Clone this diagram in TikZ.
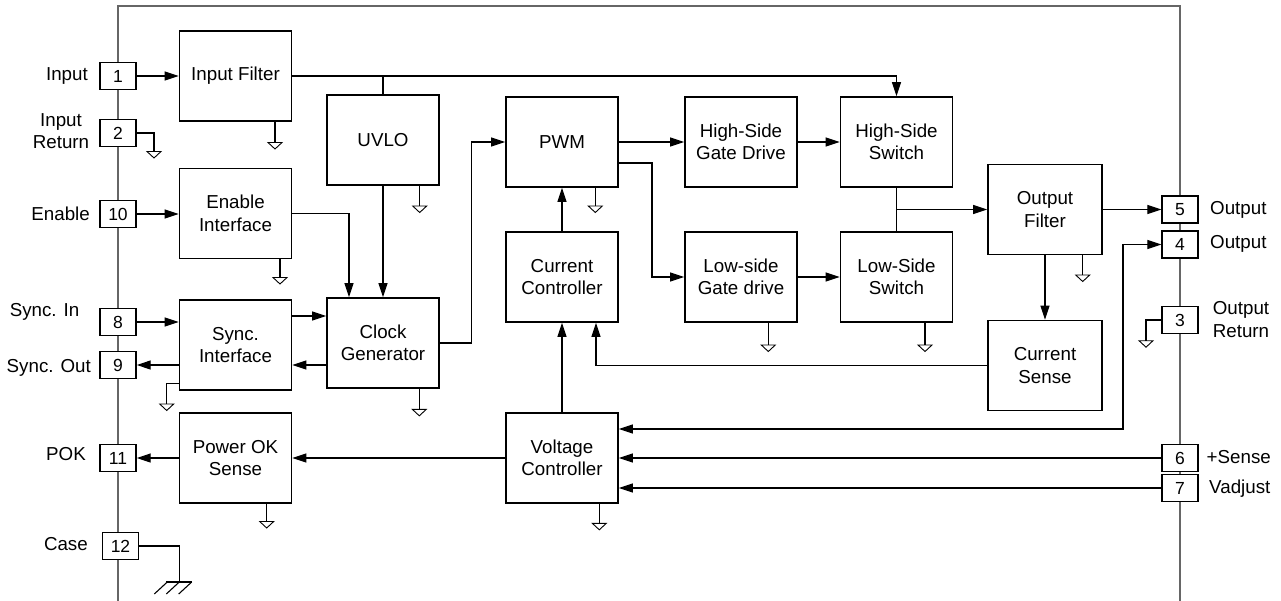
\documentclass[tikz,border=0pt]{standalone}
\usepackage{fontspec}
\setmainfont{Liberation Sans}
\usetikzlibrary{arrows.meta}
\newcommand{\gndsym}[1]{\draw[gndline] (#1) ++(-7,0) -- ++(14,0) -- ++(-7,6.5) -- cycle;}
\begin{document}
\begin{tikzpicture}[x=1pt,y=-1pt,
  every node/.style={font=\fontsize{18.75}{22.5}\selectfont, inner sep=0pt},
  block/.style={draw, line width=1.6pt, minimum width=112pt, minimum height=90pt, align=center},
  pin/.style={draw, fill=white, line width=1.4pt, minimum width=36pt, minimum height=27pt, font=\fontsize{17.5}{20}\selectfont},
  lbl/.style={align=center},
  wire/.style={line width=1.1pt},
  arr/.style={wire, -{Triangle[length=14pt,width=9pt]}},
  darr/.style={wire, {Triangle[length=14pt,width=9pt]}-{Triangle[length=14pt,width=9pt]}},
  frame/.style={line width=1.2pt, draw=black!60},
  gndline/.style={line width=0.9pt}
]
\useasboundingbox (0,0) rectangle (1281,601);
% package frame
\draw[frame] (118,601) -- (118,6) -- (1180,6) -- (1180,601);

% blocks
\node[block] (infilt) at (235.5,76) {Input Filter};
\node[block] (enable) at (235.5,213.5) {Enable\\Interface};
\node[block] (sync) at (235.5,345) {Sync.\\Interface};
\node[block] (pok) at (235.5,458) {Power OK\\Sense};
\node[block] (uvlo) at (383,140) {UVLO};
\node[block] (clock) at (383,343) {Clock\\Generator};
\node[block] (pwm) at (562,142) {PWM};
\node[block] (curctl) at (562,277) {Current\\Controller};
\node[block] (volt) at (562,458) {Voltage\\Controller};
\node[block] (hsgd) at (741,142) {High-Side\\Gate Drive};
\node[block] (hss) at (896.5,142) {High-Side\\Switch};
\node[block] (lsgd) at (741,277) {Low-side\\Gate drive};
\node[block] (lss) at (896.5,277) {Low-Side\\Switch};
\node[block, minimum width=114pt] (outf) at (1045,209.5) {Output\\Filter};
\node[block, minimum width=114pt] (cursense) at (1045,365.5) {Current\\Sense};

% pins
\node[pin] (p1) at (118,76) {1};
\node[pin] (p2) at (118,133) {2};
\node[pin] (p10) at (118,214) {10};
\node[pin] (p8) at (118,322) {8};
\node[pin] (p9) at (118,365) {9};
\node[pin] (p11) at (118,458) {11};
\node[pin] (p12) at (120.5,546) {12};
\node[pin] (p5) at (1180,209.5) {5};
\node[pin] (p4) at (1180,244.5) {4};
\node[pin] (p3) at (1180,320) {3};
\node[pin] (p6) at (1180,458) {6};
\node[pin] (p7) at (1180,488) {7};

% pin labels
\node[anchor=east] (lin) at (88,76) {Input};
\node[lbl] (lir) at (61,131) {Input\\Return};
\node[anchor=east] (len) at (90,214) {Enable};
\node (lsi) at (44.5,312) {Sync. In};
\node[anchor=east] (lso) at (91,368) {Sync. Out};
\node[anchor=east] (lpok) at (86,454) {POK};
\node[anchor=east] (lcase) at (88,544) {Case};
\node[anchor=west] (lo5) at (1210,210) {Output};
\node[anchor=west] (lo4) at (1210,244) {Output};
\node[lbl] (lor) at (1241,319.5) {Output\\Return};
\node[anchor=west] (lsense) at (1206.5,457) {+Sense};
\node[anchor=west] (lvadj) at (1209,489) {Vadjust};

\coordinate (j4) at (1123,244.5);

% connectors
\draw[arr] (p1.east) -- (infilt.west |- p1.east);
\draw[arr] (infilt.east) -| (hss.north);
\draw[wire] (uvlo.north) -- (uvlo.north |- infilt.east);
\draw[arr] (uvlo.south) -- (clock.north);
\draw[arr] (enable.east) -| ([xshift=-34pt]clock.north);
\draw[arr] (p10.east) -- (enable.west |- p10.east);
\draw[arr] (p8.east) -- (sync.west |- p8.east);
\draw[arr] (sync.west |- p9.east) -- (p9.east);
\draw[arr] (sync.east |- 0,316) -- (clock.west |- 0,316);
\draw[arr] (clock.west |- 0,365) -- (sync.east |- 0,365);
\draw[arr] (clock.east) -- ++(32,0) |- (pwm.west);
\draw[arr] (pwm.east) -- (hsgd.west);
\draw[arr] (pwm.east |- 0,163) -- (652,163) |- (lsgd.west);
\draw[arr] (hsgd.east) -- (hss.west);
\draw[arr] (lsgd.east) -- (lss.west);
\draw[wire] (hss.south) -- (lss.north);
\draw[arr] (hss.south |- outf.west) -- (outf.west);
\draw[arr] (outf.east) -- (p5.west);
\draw[arr] (outf.south) -- (cursense.north);
\draw[arr] (cursense.west) -| ([xshift=34pt]curctl.south);
\draw[arr] (volt.north) -- (curctl.south);
\draw[arr] (curctl.north) -- (pwm.south);
\draw[darr] (volt.east |- 0,429) -| (j4) -- (p4.west);
\draw[arr] (p6.west) -- (volt.east |- p6.west);
\draw[arr] (p7.west) -- (volt.east |- p7.west);
\draw[arr] (volt.west) -- (pok.east);
\draw[arr] (pok.west) -- (p11.east);

% grounds
\draw[wire] (p2.east) -- (154,133) -- (154,151.5); \gndsym{154,151.5}
\draw[wire] (infilt.south -| 275,0) -- (275,142.5); \gndsym{275,142.5}
\draw[wire] (enable.south -| 280,0) -- (280,277.5); \gndsym{280,277.5}
\draw[wire] (sync.west |- 0,383.5) -- (166.7,383.5) -- (166.7,404); \gndsym{166.7,404}
\draw[wire] (pok.south -| 266.7,0) -- (266.7,521.5); \gndsym{266.7,521.5}
\draw[wire] (clock.south -| 419.3,0) -- (419.3,409.3); \gndsym{419.3,409.3}
\draw[wire] (uvlo.south -| 419.7,0) -- (419.7,206); \gndsym{419.7,206}
\draw[wire] (pwm.south -| 595.3,0) -- (595.3,206); \gndsym{595.3,206}
\draw[wire] (volt.south -| 599.3,0) -- (599.3,523.3); \gndsym{599.3,523.3}
\draw[wire] (lsgd.south -| 768.3,0) -- (768.3,345); \gndsym{768.3,345}
\draw[wire] (lss.south -| 925,0) -- (925,345); \gndsym{925,345}
\draw[wire] (outf.south -| 1082.7,0) -- (1082.7,275); \gndsym{1082.7,275}
\draw[wire] (p3.west) -- (1146,320) -- (1146,340.7); \gndsym{1146,340.7}

% chassis ground on case pin
\draw[wire] (p12.east) -- (179.3,546) -- (179.3,582);
\draw[wire] (166,582) -- (192,582);
\draw[wire] (167.3,582) -- (154.3,594) (179.3,582) -- (166.3,594) (191.7,582) -- (178.7,594);
\end{tikzpicture}
\end{document}
